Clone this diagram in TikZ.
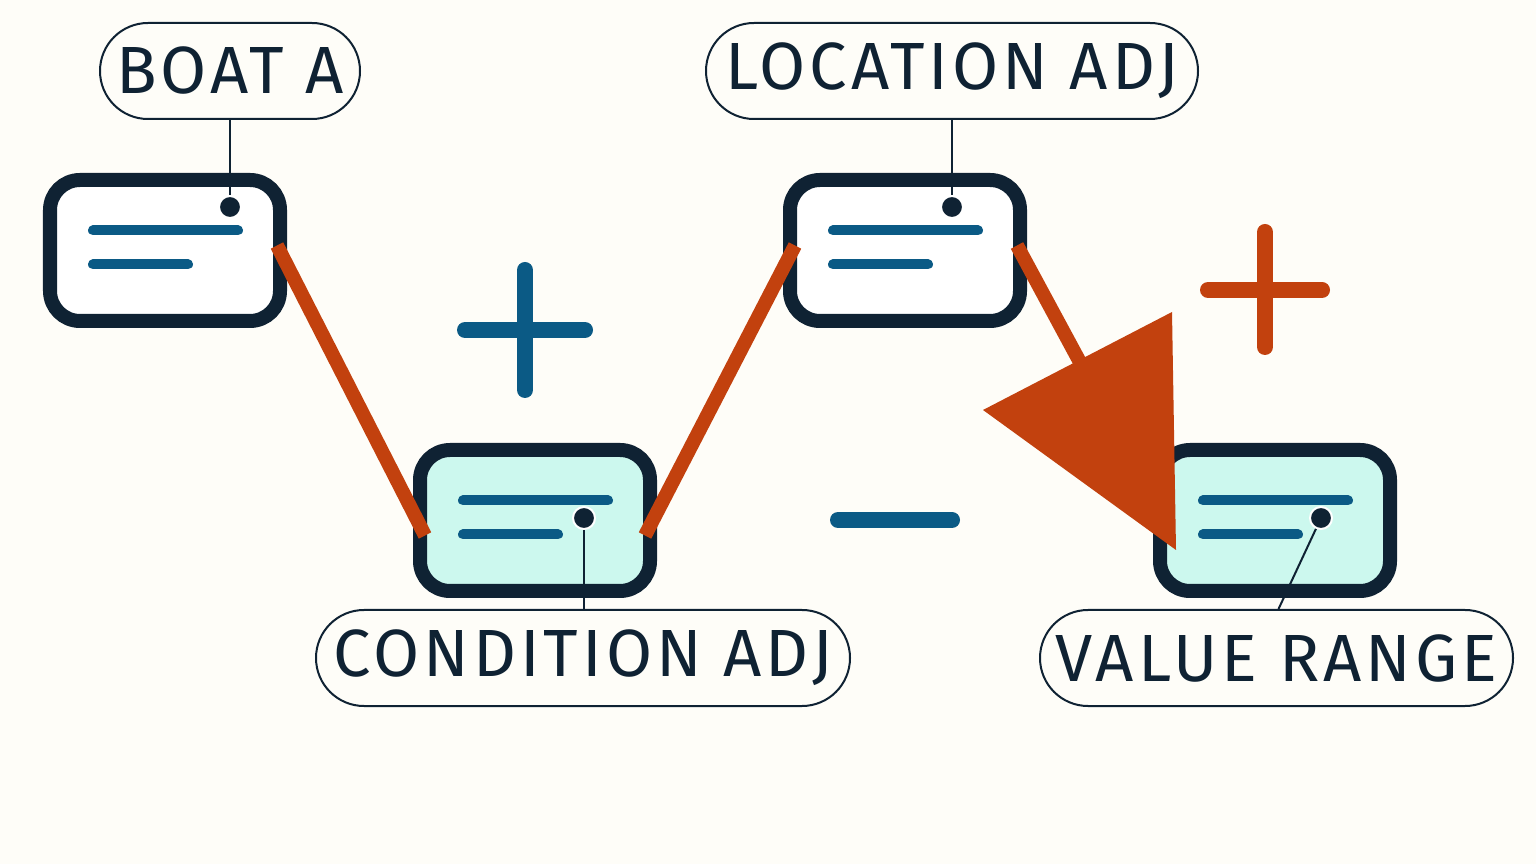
\documentclass[tikz,border=0pt]{standalone}
\usepackage{fontspec}
\setmainfont{Fira Sans}[LetterSpace=6]
\usetikzlibrary{positioning}
\definecolor{navy}{RGB}{15,34,51}
\definecolor{ink}{RGB}{11,90,133}
\definecolor{rust}{RGB}{194,65,14}
\definecolor{mint}{RGB}{204,248,238}
\definecolor{paper}{RGB}{254,253,248}
\tikzset{
  card/.style={draw=navy,line width=0.14cm,rounded corners=0.3cm,minimum width=2.3cm,minimum height=1.41cm,fill=white},
  tag/.style={draw=navy,line width=0.02cm,rounded corners=0.48cm,minimum height=0.96cm,fill=paper,font=\fontsize{19}{19}\selectfont,text=navy},
  bar/.style={ink,line width=0.1cm,line cap=round},
  link/.style={rust,line width=0.14cm},
  pin/.style={fill=navy,draw=white,line width=0.02cm,circle,inner sep=0pt,minimum size=0.22cm},
  stem/.style={navy,line width=0.02cm},
}
\newcommand{\cardbars}[1]{%
  \draw[bar] ([xshift=0.5cm,yshift=0.2cm]#1.west) -- ++(1.45,0);
  \draw[bar] ([xshift=0.5cm,yshift=-0.14cm]#1.west) -- ++(0.95,0);}
\begin{document}
\begin{tikzpicture}
\fill[paper] (0,0) rectangle (15.36,-8.64);
\useasboundingbox (0,0) rectangle (15.36,-8.64);
% cards
\node[card] (boat) at (1.65,-2.505) {};
\node[card,fill=mint] (cond) at (5.35,-5.205) {};
\node[card] (loc) at (9.05,-2.505) {};
\node[card,fill=mint] (val) at (12.75,-5.205) {};
\cardbars{boat} \cardbars{cond} \cardbars{loc} \cardbars{val}
% tags
\node[tag,minimum width=2.6cm] (tboat) at (2.30,-0.71) {BOAT A};
\node[tag,minimum width=4.92cm] (tloc) at (9.52,-0.71) {LOCATION ADJ};
\node[tag,minimum width=5.34cm] (tcond) at (5.83,-6.58) {CONDITION ADJ};
\node[tag,minimum width=4.73cm] (tval) at (12.765,-6.58) {VALUE RANGE};
% pins
\node[pin] (pboat) at (2.30,-2.07) {};
\node[pin] (ploc) at (9.52,-2.07) {};
\node[pin] (pcond) at (5.84,-5.18) {};
\node[pin] (pval) at (13.21,-5.18) {};
\draw[stem] (tboat) -- (pboat);
\draw[stem] (tloc) -- (ploc);
\draw[stem] (pcond) -- (tcond.north -| pcond);
\draw[stem] (pval) -- ([xshift=0.02cm]tval.north);
% links
\draw[link] ([xshift=-0.1cm,yshift=0.05cm]boat.east) -- ([xshift=0.12cm,yshift=-0.15cm]cond.west);
\draw[link] ([xshift=-0.12cm,yshift=-0.15cm]cond.east) -- ([xshift=0.12cm,yshift=0.05cm]loc.west);
\coordinate (tip) at (11.76,-5.5);
\draw[link] ([xshift=-0.1cm,yshift=0.05cm]loc.east) -- (10.82,-3.66);
\fill[rust] (11.72,-3.12) -- (9.83,-4.10) -- (tip) -- cycle;
% signs
\draw[bar,line width=0.16cm] (4.65,-3.3) -- (5.85,-3.3) (5.25,-2.7) -- (5.25,-3.9);
\draw[bar,line width=0.16cm,rust] (12.08,-2.9) -- (13.22,-2.9) (12.65,-2.32) -- (12.65,-3.47);
\draw[bar,line width=0.16cm] (8.38,-5.2) -- (9.52,-5.2);
\end{tikzpicture}
\end{document}
